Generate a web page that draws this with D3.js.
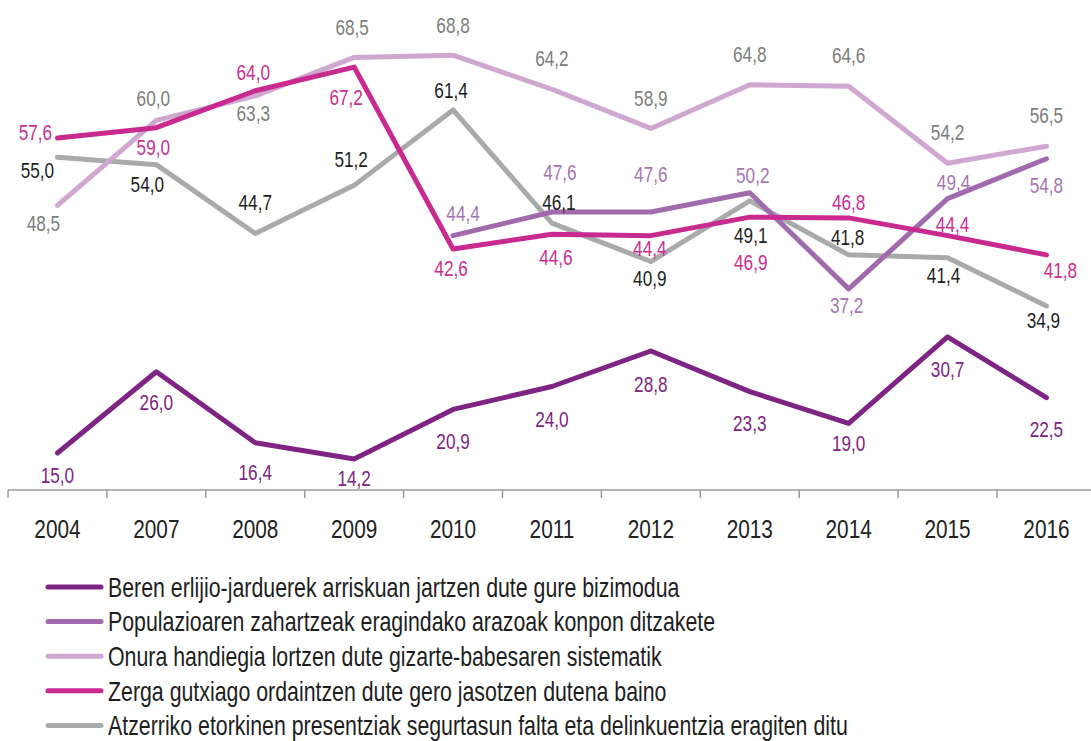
<!DOCTYPE html>
<html>
<head>
<meta charset="utf-8">
<script src="https://cdn.jsdelivr.net/npm/d3@7"></script>
<style>
  body { margin: 0; background: #fff; }
  svg text { font-family: 'Liberation Sans', Arial, sans-serif; }
</style>
</head>
<body>
<div id="chart"></div>
<script>
(function() {

const width = 1091,
      height = 741

// data
const years = ['2004', '2007', '2008', '2009', '2010', '2011', '2012', '2013', '2014', '2015', '2016']
const erlijio = [15.0, 26.0, 16.4, 14.2, 20.9, 24.0, 28.8, 23.3, 19.0, 30.7, 22.5]
const zahartze = [null, null, null, null, 44.4, 47.6, 47.6, 50.2, 37.2, 49.4, 54.8]
const onura = [48.5, 60.0, 63.3, 68.5, 68.8, 64.2, 58.9, 64.8, 64.6, 54.2, 56.5]
const zerga = [57.6, 59.0, 64.0, 67.2, 42.6, 44.6, 44.4, 46.9, 46.8, 44.4, 41.8]
const atzerri = [55.0, 54.0, 44.7, 51.2, 61.4, 46.1, 40.9, 49.1, 41.8, 41.4, 34.9]
const seriesNames = [
  'Beren erlijio-jarduerek arriskuan jartzen dute gure bizimodua',
  'Populazioaren zahartzeak eragindako arazoak konpon ditzakete',
  'Onura handiegia lortzen dute gizarte-babesaren sistematik',
  'Zerga gutxiago ordaintzen dute gero jasotzen dutena baino',
  'Atzerriko etorkinen presentziak segurtasun falta eta delinkuentzia eragiten ditu'
]

// label placement (dx, dy from the point), picked by hand like the original
const erlijioLabelPos = [[0,22],[0,31],[0,30],[0,19],[0,32],[0,33],[0,33],[0,32],[0,20],[0,32],[0,32]]
const zahartzeLabelPos = [null,null,null,null,[10,-22],[8,-40],[0,-38],[3,-18],[-2,16],[6,-16],[0,27]]
const onuraLabelPos = [[-14,18],[-3,-22],[-2,17],[-2,-30],[0,-30],[0,-31],[0,-30],[0,-31],[0,-31],[0,-31],[0,-31]]
const zergaLabelPos = [[-22,-6],[-3,20],[-2,-18],[-8,30],[-2,19],[4,23],[-1,13],[1,45],[0,-16],[5,-11],[14,15]]
const atzerriLabelPos = [[-20,13],[-9,20],[0,-31],[-3,-26],[-2,-20],[7,-21],[-1,17],[1,34],[-1,-18],[-4,17],[-3,14]]

const lineColors = ['#7e2483', '#a16aad', '#cfa7d0', '#c92a8f', '#a9abab']
const labelColors = ['#7e2483', '#a775b4', '#7d7d7d', '#cc2e92', '#1e1e1e']

const series = [
  { name: seriesNames[0], values: erlijio, pos: erlijioLabelPos, color: lineColors[0], label: labelColors[0] },
  { name: seriesNames[1], values: zahartze, pos: zahartzeLabelPos, color: lineColors[1], label: labelColors[1] },
  { name: seriesNames[2], values: onura, pos: onuraLabelPos, color: lineColors[2], label: labelColors[2] },
  { name: seriesNames[3], values: zerga, pos: zergaLabelPos, color: lineColors[3], label: labelColors[3] },
  { name: seriesNames[4], values: atzerri, pos: atzerriLabelPos, color: lineColors[4], label: labelColors[4] }
]
// drawing order: grey at the back, dark purple on top
const drawOrder = [4, 2, 1, 3, 0]

// the original uses a narrow face; squeeze Liberation Sans to get close
const squeeze = 0.8,
      legendSqueeze = 0.79

const svg = d3.select('#chart')
  .append('svg')
  .attr('width', width)
  .attr('height', height)

const x = d3.scaleBand()
  .domain(years)
  .range([8, 8 + 11 * 98.9])
  .paddingInner(0)
  .paddingOuter(0)

const y = d3.scaleLinear()
  .domain([10, 76])
  .range([490, 2])

const cx = function(i) { return x(years[i]) + x.bandwidth() / 2 }

// axis
const axisY = y(10)
svg.append('line')
  .attr('x1', x.range()[0]).attr('x2', width)
  .attr('y1', axisY).attr('y2', axisY)
  .attr('stroke', '#9a9a9a').attr('stroke-width', 1.5)

svg.selectAll('.tick-mark')
  .data(years)
  .enter()
  .append('line')
  .attr('class', 'tick-mark')
  .attr('x1', function(d) { return x(d) }).attr('x2', function(d) { return x(d) })
  .attr('y1', axisY).attr('y2', axisY + 8)
  .attr('stroke', '#9a9a9a').attr('stroke-width', 1.5)

const xAxis = svg.append('g')
  .attr('transform', 'translate(0,' + axisY + ')')
  .call(d3.axisBottom(x).tickSize(0).tickPadding(30))
xAxis.select('.domain').remove()
xAxis.selectAll('text')
  .style('font-family', "'Liberation Sans', Arial, sans-serif")
  .style('font-size', '26px')
  .attr('fill', '#222')
  .attr('transform', 'scale(' + squeeze + ',1)')

// lines
const line = d3.line()
  .defined(function(d) { return d != null })
  .x(function(d, i) { return cx(i) })
  .y(function(d) { return y(d) })

drawOrder.forEach(function(k) {
  const s = series[k]
  svg.append('path')
    .datum(s.values)
    .attr('fill', 'none')
    .attr('stroke', s.color)
    .attr('stroke-width', 5)
    .attr('stroke-linejoin', 'round')
    .attr('stroke-linecap', 'round')
    .attr('d', line)
})

// value labels
const fmt = function(v) { return v.toFixed(1).replace('.', ',') }

series.forEach(function(s) {
  const pts = s.values.map(function(v, i) { return { v: v, i: i, p: s.pos[i] } })
    .filter(function(d) { return d.v != null })
  svg.selectAll(null)
    .data(pts)
    .enter()
    .append('text')
    .attr('transform', function(d) {
      return 'translate(' + (cx(d.i) + d.p[0]) + ',' + (y(d.v) + d.p[1]) + ') scale(' + squeeze + ',1)'
    })
    .attr('dy', '0.36em')
    .attr('text-anchor', 'middle')
    .attr('font-size', 21.5)
    .attr('fill', s.label)
    .text(function(d) { return fmt(d.v) })
})

// legend
const legend = svg.append('g')
  .attr('transform', 'translate(46,587)')

const rows = legend.selectAll('.row')
  .data(series)
  .enter()
  .append('g')
  .attr('class', 'row')
  .attr('transform', function(d, i) { return 'translate(0,' + (i * 34.6) + ')' })

rows.append('line')
  .attr('x1', 2).attr('x2', 55)
  .attr('y1', 0).attr('y2', 0)
  .attr('stroke', function(d) { return d.color })
  .attr('stroke-width', 5)
  .attr('stroke-linecap', 'round')

rows.append('text')
  .attr('transform', 'translate(62,0) scale(' + legendSqueeze + ',1)')
  .attr('dy', '0.36em')
  .attr('font-size', 27)
  .attr('fill', '#1e1e1e')
  .text(function(d) { return d.name })

})()
</script>
</body>
</html>
